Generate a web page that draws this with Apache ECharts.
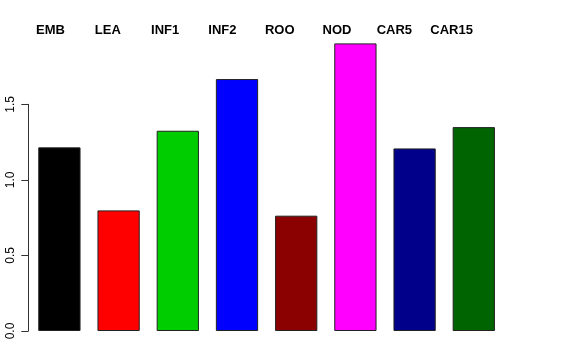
<!DOCTYPE html>
<html>
<head>
<meta charset="utf-8">
<script src="https://cdn.jsdelivr.net/npm/echarts@6/dist/echarts.min.js"></script>
<style>html,body{margin:0;padding:0;background:#fff}#c{width:576px;height:360px}</style>
</head>
<body>
<div id="c"></div>
<script>
const categories = ['EMB', 'LEA', 'INF1', 'INF2', 'ROO', 'NOD', 'CAR5', 'CAR15'];
const values = [1.215, 0.798, 1.325, 1.667, 0.763, 1.903, 1.208, 1.349];
const barColors = ['#000000', '#FF0000', '#00CD00', '#0000FF', '#8B0000', '#FF00FF', '#00008B', '#006400'];
const yTicks = [0, 0.5, 1.0, 1.5];

const font = '"Liberation Sans", Arial, Helvetica, sans-serif';
const chart = echarts.init(document.getElementById('c'), null, {renderer: 'canvas'});
chart.setOption({
  animation: false,
  backgroundColor: '#ffffff',
  grid: [
    {left: 29.8, width: 473.6, top: 104.3, height: 226.7, containLabel: false},
    {left: 21.9, width: 458.4, top: 37, height: 10, containLabel: false}
  ],
  xAxis: [
    {type: 'category', gridIndex: 0, data: categories, show: false},
    {type: 'category', gridIndex: 1, data: categories, position: 'top',
     axisLine: {show: false}, axisTick: {show: false},
     axisLabel: {margin: 0, fontFamily: font, fontWeight: 'bold', fontSize: 13, color: '#000', interval: 0}}
  ],
  yAxis: [
    {type: 'value', gridIndex: 0, min: yTicks[0], max: yTicks[yTicks.length - 1], interval: 0.5, offset: 1.5,
     axisLine: {show: true, lineStyle: {color: '#333', width: 1}},
     axisTick: {show: true, length: 7, lineStyle: {color: '#333', width: 1}},
     splitLine: {show: false},
     axisLabel: {rotate: 90, margin: 12, fontFamily: font, fontSize: 12, color: '#000',
                 formatter: v => v.toFixed(1)}},
    {type: 'value', gridIndex: 1, show: false}
  ],
  series: [{
    type: 'bar',
    xAxisIndex: 0, yAxisIndex: 0,
    clip: false,
    barCategoryGap: '28.6%',
    data: values.map((v, i) => ({value: v, itemStyle: {color: barColors[i]}})),
    itemStyle: {borderColor: '#222', borderWidth: 1}
  }]
});
</script>
</body>
</html>
